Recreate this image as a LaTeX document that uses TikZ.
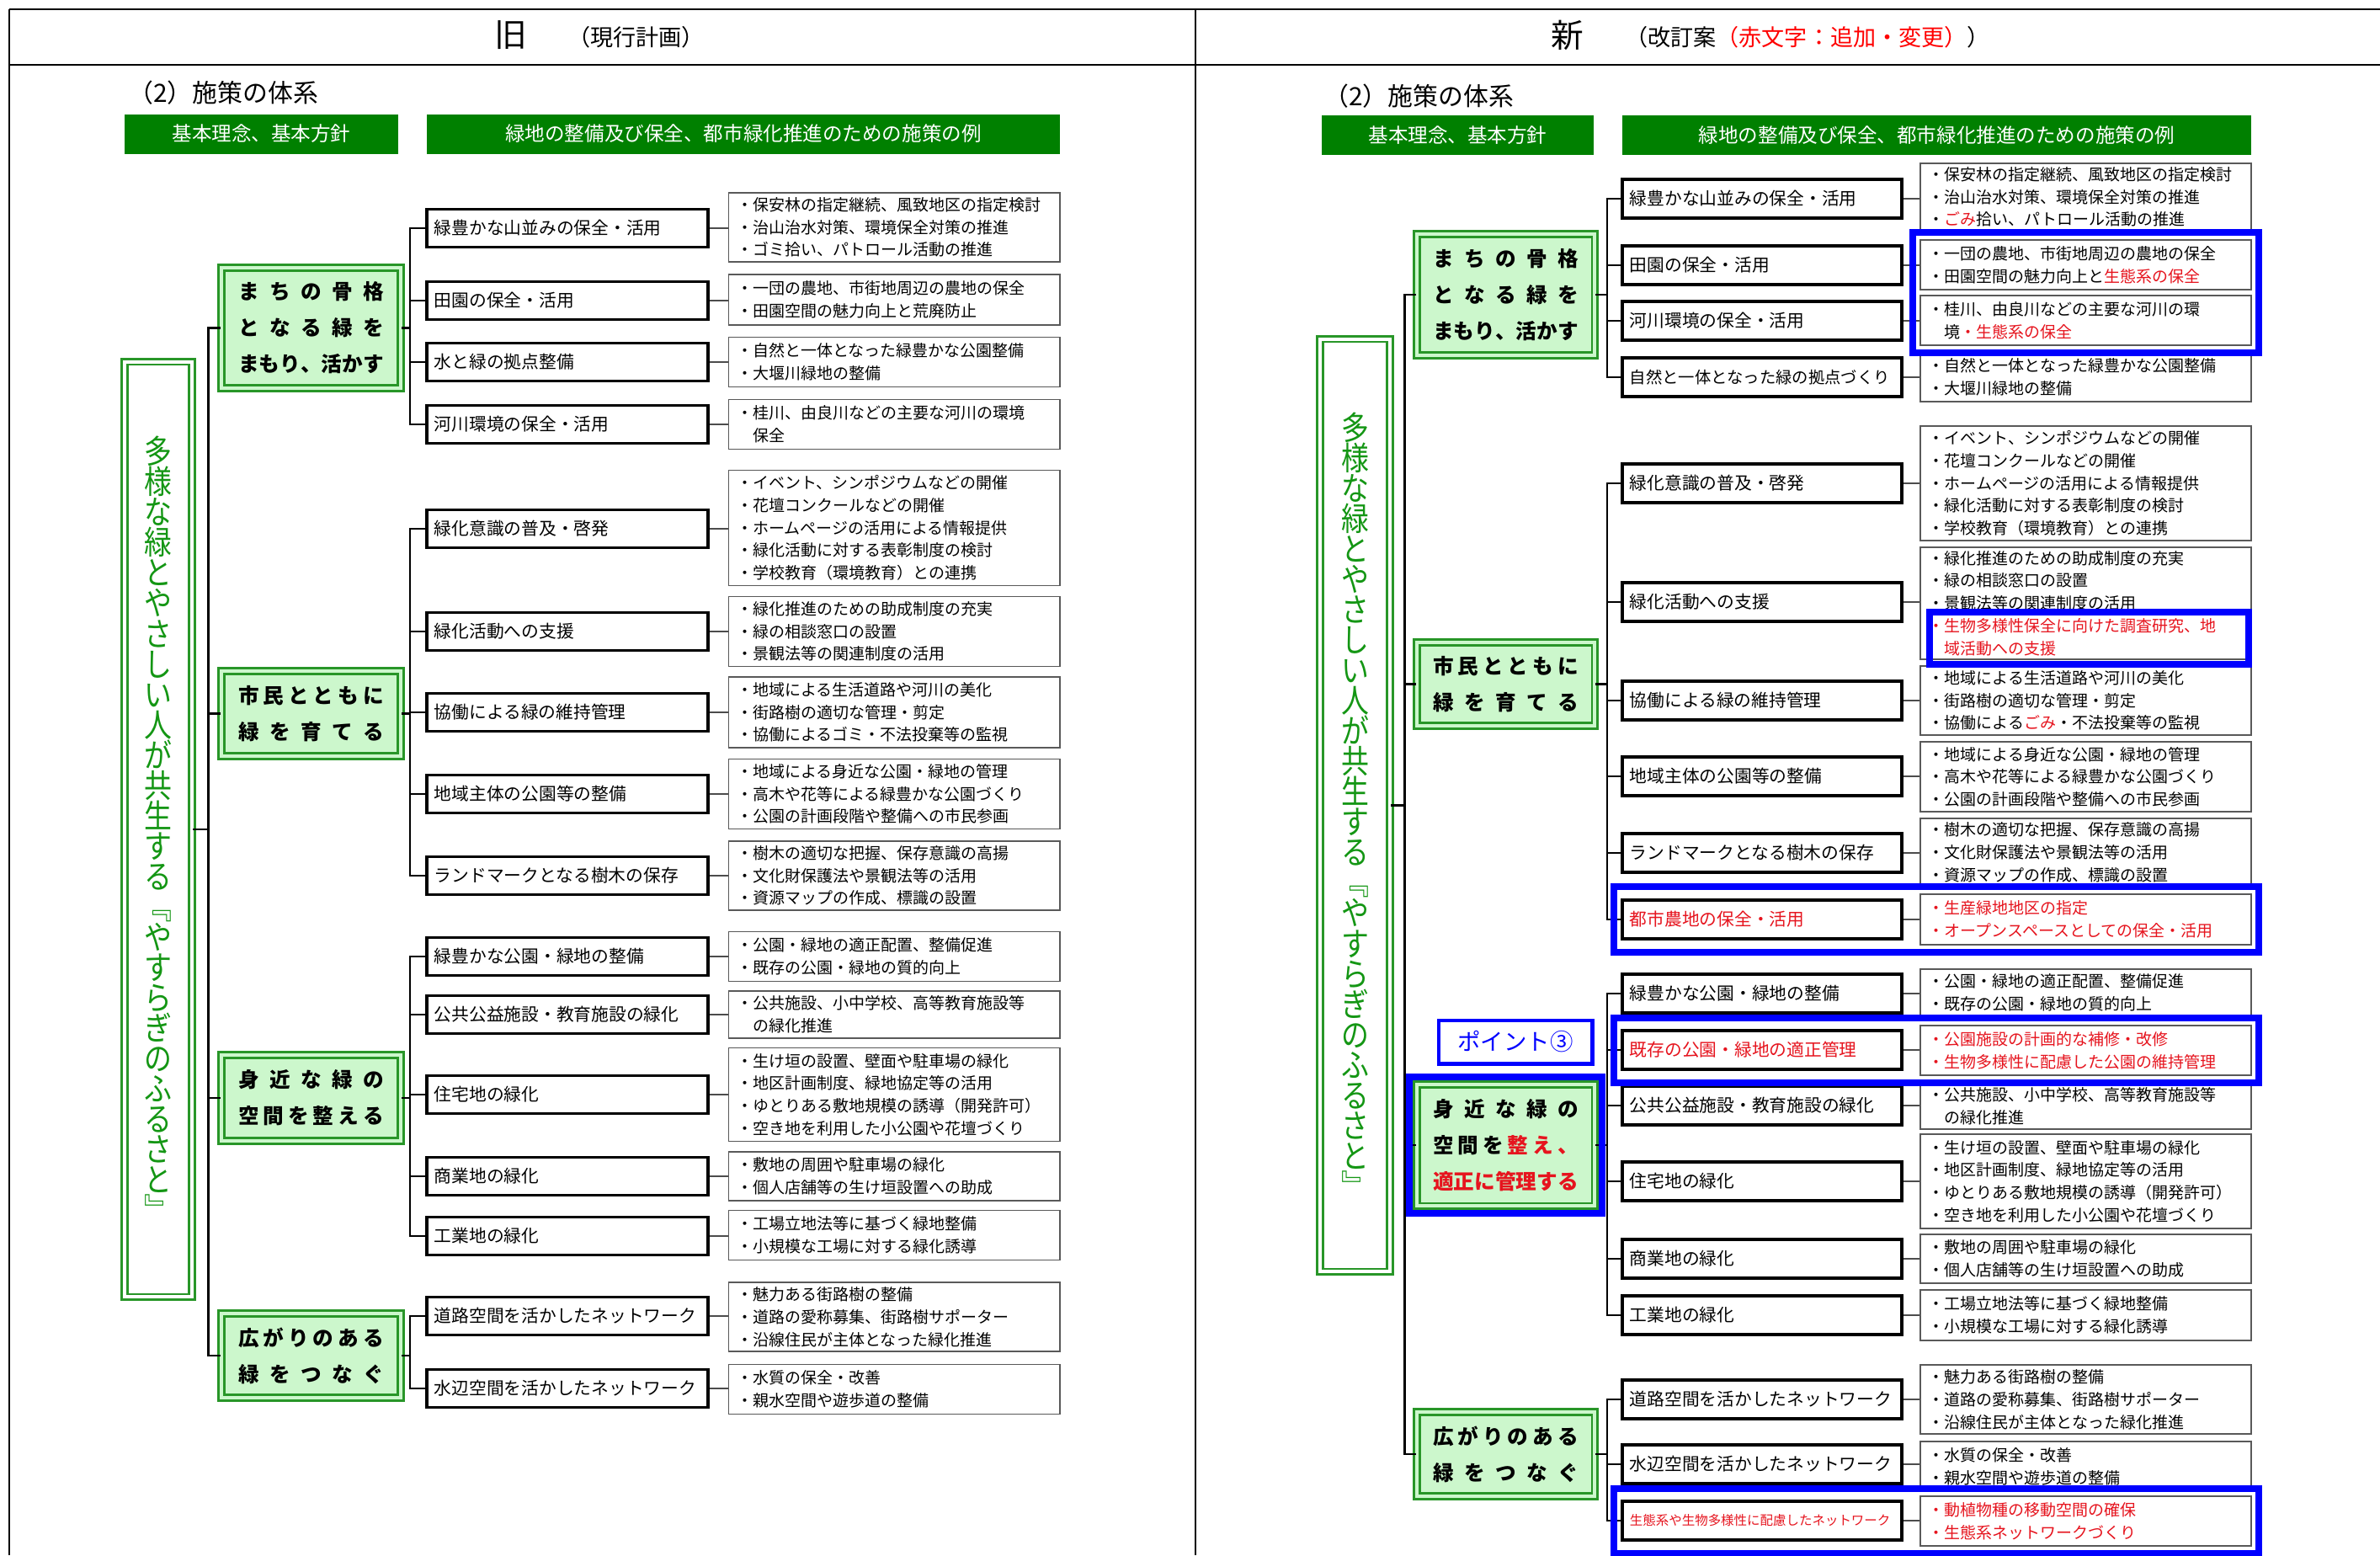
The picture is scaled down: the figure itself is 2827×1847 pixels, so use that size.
\documentclass[tikz,border=0pt]{standalone}
\usepackage{fontspec}
\setmainfont{Noto Sans CJK JP}
\newfontfamily\tall{Noto Sans CJK JP}[FakeStretch=0.85]
\usetikzlibrary{fit}
\definecolor{barg}{RGB}{0,128,0}
\definecolor{kgreen}{RGB}{40,150,40}
\definecolor{lgreen}{RGB}{204,247,204}
\definecolor{tgreen}{RGB}{20,150,20}
\definecolor{akared}{RGB}{230,20,30}
\newcommand\aka[1]{\textcolor{akared}{#1}}
% spread the letters of a line over the box
\newcommand\kin[1]{\makebox[49pt][s]{\kina#1\relax}}
\def\kina#1{#1\kinb}
\def\kinb#1{\ifx#1\relax\else\hfill#1\expandafter\kinb\fi}

\begin{document}
\begin{tikzpicture}[x=0.01cm,y=-0.01cm,
  hbar/.style={fill=barg,text=white,minimum height=0.47cm,inner sep=0pt,font=\fontsize{6.7pt}{8pt}\selectfont},
  mainbox/.style={draw=kgreen,double=white,double distance=1.2pt,line width=0.7pt,fill=white,text=tgreen,align=center,inner sep=0pt,font=\tall\fontsize{11pt}{10.25pt}\selectfont},
  kbox/.style={draw=kgreen,double=lgreen,double distance=1.2pt,line width=0.7pt,fill=lgreen,align=center,inner sep=0pt,font=\bfseries\fontsize{7pt}{12.2pt}\selectfont},
  sbox/.style={draw,line width=1.1pt,fill=white,align=left,inner xsep=0.09cm,inner ysep=0pt,minimum height=0.45cm,font=\fontsize{5.9pt}{7pt}\selectfont},
  lbox/.style={draw=black!65,line width=0.5pt,fill=white,align=left,text width=3.73cm,inner xsep=0.1cm,inner ysep=0.01cm,font=\fontsize{5.4pt}{7.6pt}\selectfont},
  hilite/.style={draw=blue,line width=2.3pt,inner sep=0.08cm},
  link/.style={line width=0.8pt},
  twig/.style={line width=0.6pt,black!70}]
\useasboundingbox (0,0) rectangle (2827,1847);

% frame and headings
\draw[line width=0.7pt] (11,11) -- (2827,11) (11,77) -- (2827,77) (11,11) -- (11,1847) (1420,11) -- (1420,1847);
\node (lh) at (607,42) {\fontsize{11pt}{12pt}\selectfont 旧};
\node[anchor=west] (lhs) at (662,44) {\fontsize{7.7pt}{9pt}\selectfont （現行計画）};
\node (rh) at (1862,42) {\fontsize{11pt}{12pt}\selectfont 新};
\node[anchor=west] (rhs) at (1918,44) {\fontsize{7.7pt}{9pt}\selectfont （改訂案\textcolor{red}{（赤文字：追加・変更）}）};

% ---------------- old plan ----------------
\node[anchor=west,font=\fontsize{8.5pt}{10pt}\selectfont] (ltitle) at (140,110) {（2）施策の体系};
\node[hbar,minimum width=3.25cm] (lbar1) at (310.5,159) {基本理念、基本方針};
\node[hbar,minimum width=7.52cm] (lbar2) at (883,159) {緑地の整備及び保全、都市緑化推進のための施策の例};

\node[mainbox,minimum width=0.8cm,minimum height=11.1cm] (lm) at (188,985) {多\\様\\な\\緑\\と\\や\\さ\\し\\い\\人\\が\\共\\生\\す\\る\\﹃\\や\\す\\ら\\ぎ\\の\\ふ\\る\\さ\\と\\﹄};

\node[kbox,minimum width=2.13cm,minimum height=1.43cm] (lka) at (369.5,389.5) {\kin{まちの骨格}\\\kin{となる緑を}\\\kin{まもり、活かす}};
\node[kbox,minimum width=2.13cm,minimum height=1.01cm] (lkb) at (369.5,847.5) {\kin{市民とともに}\\\kin{緑を育てる}};
\node[kbox,minimum width=2.13cm,minimum height=1.02cm] (lkc) at (369.5,1304) {\kin{身近な緑の}\\\kin{空間を整える}};
\node[kbox,minimum width=2.13cm,minimum height=1.0cm] (lkd) at (369.5,1610) {\kin{広がりのある}\\\kin{緑をつなぐ}};

\foreach \y/\t [count=\i] in {271/緑豊かな山並みの保全・活用,357/田園の保全・活用,430/水と緑の拠点整備,504/河川環境の保全・活用,628/緑化意識の普及・啓発,750/緑化活動への支援,846/協働による緑の維持管理,943/地域主体の公園等の整備,1040/ランドマークとなる樹木の保存,1136/緑豊かな公園・緑地の整備,1205/公共公益施設・教育施設の緑化,1300/住宅地の緑化,1397/商業地の緑化,1468/工業地の緑化,1563/道路空間を活かしたネットワーク,1649/水辺空間を活かしたネットワーク}
  \node[sbox,text width=3.16cm] (ls\i) at (674,\y) {\t};

\foreach \y/\h/\t [count=\i] in {
  270/82/{・保安林の指定継続、風致地区の指定検討\\・治山治水対策、環境保全対策の推進\\・ゴミ拾い、パトロール活動の推進},
  356/60/{・一団の農地、市街地周辺の農地の保全\\・田園空間の魅力向上と荒廃防止},
  430/59/{・自然と一体となった緑豊かな公園整備\\・大堰川緑地の整備},
  504/59/{・桂川、由良川などの主要な河川の環境\\\hspace*{1em}保全},
  627/137/{・イベント、シンポジウムなどの開催\\・花壇コンクールなどの開催\\・ホームページの活用による情報提供\\・緑化活動に対する表彰制度の検討\\・学校教育（環境教育）との連携},
  750/83/{・緑化推進のための助成制度の充実\\・緑の相談窓口の設置\\・景観法等の関連制度の活用},
  846/84/{・地域による生活道路や河川の美化\\・街路樹の適切な管理・剪定\\・協働によるゴミ・不法投棄等の監視},
  943/83/{・地域による身近な公園・緑地の管理\\・高木や花等による緑豊かな公園づくり\\・公園の計画段階や整備への市民参画},
  1040/82/{・樹木の適切な把握、保存意識の高揚\\・文化財保護法や景観法等の活用\\・資源マップの作成、標識の設置},
  1136/59/{・公園・緑地の適正配置、整備促進\\・既存の公園・緑地の質的向上},
  1205/56/{・公共施設、小中学校、高等教育施設等\\\hspace*{1em}の緑化推進},
  1300/111/{・生け垣の設置、壁面や駐車場の緑化\\・地区計画制度、緑地協定等の活用\\・ゆとりある敷地規模の誘導（開発許可）\\・空き地を利用した小公園や花壇づくり},
  1397/58/{・敷地の周囲や駐車場の緑化\\・個人店舗等の生け垣設置への助成},
  1467/59/{・工場立地法等に基づく緑地整備\\・小規模な工場に対する緑化誘導},
  1564/82/{・魅力ある街路樹の整備\\・道路の愛称募集、街路樹サポーター\\・沿線住民が主体となった緑化推進},
  1650/59/{・水質の保全・改善\\・親水空間や遊歩道の整備}}
  \node[lbox,minimum height=\h*0.1mm] (ll\i) at (1062,\y) {\t};

\foreach \i in {1,...,16} \draw[twig] (ls\i.east) -- (ls\i.east -| ll\i.west);
\path (ls1.west) ++(-18,0) coordinate (lt);
\draw[link] (ls1.west) -- (ls1.west -| lt) -- (ls4.west -| lt) -- (ls4.west);
\draw[link] (ls5.west) -- (ls5.west -| lt) -- (ls9.west -| lt) -- (ls9.west);
\draw[link] (ls10.west) -- (ls10.west -| lt) -- (ls14.west -| lt) -- (ls14.west);
\draw[link] (ls15.west) -- (ls15.west -| lt) -- (ls16.west -| lt) -- (ls16.west);
\foreach \i in {2,3,6,7,8,11,12,13} \draw[link] (ls\i.west) -- (ls\i.west -| lt);
\foreach \k in {a,b,c,d} \draw[link] (lk\k.east) -- (lk\k.east -| lt);
\path (lm.east) ++(18,0) coordinate (lmt);
\draw[link] (lm.east) -- (lmt);
\draw[link] (lka.west) -- (lka.west -| lmt) -- (lkd.west -| lmt) -- (lkd.west);
\draw[link] (lkb.west) -- (lkb.west -| lmt) (lkc.west) -- (lkc.west -| lmt);

% ---------------- new plan ----------------
\node[anchor=west,font=\fontsize{8.5pt}{10pt}\selectfont] (rtitle) at (1560,114) {（2）施策の体系};
\node[hbar,minimum width=3.23cm] (rbar1) at (1731.5,160.5) {基本理念、基本方針};
\node[hbar,minimum width=7.47cm] (rbar2) at (2300.5,160.5) {緑地の整備及び保全、都市緑化推進のための施策の例};

\node[mainbox,minimum width=0.83cm,minimum height=11.07cm] (rm) at (1609.5,956.5) {多\\様\\な\\緑\\と\\や\\さ\\し\\い\\人\\が\\共\\生\\す\\る\\﹃\\や\\す\\ら\\ぎ\\の\\ふ\\る\\さ\\と\\﹄};

\node[kbox,minimum width=2.11cm,minimum height=1.44cm] (rka) at (1788.5,350) {\kin{まちの骨格}\\\kin{となる緑を}\\\kin{まもり、活かす}};
\node[kbox,minimum width=2.11cm,minimum height=0.99cm] (rkb) at (1788.5,812.5) {\kin{市民とともに}\\\kin{緑を育てる}};
\node[kbox,minimum width=2.11cm,minimum height=1.44cm] (rkc) at (1788.5,1360) {\kin{身近な緑の}\\\makebox[49pt][s]{空\hfill 間\hfill を\hfill\aka{整}\hfill\aka{え}\hfill\aka{、}}\\\aka{\kin{適正に管理する}}};
\node[kbox,minimum width=2.11cm,minimum height=1.0cm] (rkd) at (1788.5,1727) {\kin{広がりのある}\\\kin{緑をつなぐ}};

\foreach \y/\t [count=\i] in {236/緑豊かな山並みの保全・活用,315/田園の保全・活用,381/河川環境の保全・活用,448/{\fontsize{5.5pt}{6pt}\selectfont 自然と一体となった緑の拠点づくり},574/緑化意識の普及・啓発,715/緑化活動への支援,832/協働による緑の維持管理,922/地域主体の公園等の整備,1013/ランドマークとなる樹木の保存,1092/\aka{都市農地の保全・活用},1180/緑豊かな公園・緑地の整備,1247/\aka{既存の公園・緑地の適正管理},1313/公共公益施設・教育施設の緑化,1403/住宅地の緑化,1495/商業地の緑化,1562/工業地の緑化,1662/道路空間を活かしたネットワーク,1739/水辺空間を活かしたネットワーク,1806/{\fontsize{4.4pt}{5pt}\selectfont\aka{生態系や生物多様性に配慮したネットワーク}}}
  \node[sbox,text width=3.14cm,minimum height=0.46cm] (rs\i) at (2093,\y) {\t};

\foreach \y/\h/\t [count=\i] in {
  234/80/{・保安林の指定継続、風致地区の指定検討\\・治山治水対策、環境保全対策の推進\\・\aka{ごみ}拾い、パトロール活動の推進},
  314.5/59/{・一団の農地、市街地周辺の農地の保全\\・田園空間の魅力向上と\aka{生態系の保全}},
  380.5/59/{・桂川、由良川などの主要な河川の環\\\hspace*{1em}境\aka{・生態系の保全}},
  448/58/{・自然と一体となった緑豊かな公園整備\\・大堰川緑地の整備},
  574/136/{・イベント、シンポジウムなどの開催\\・花壇コンクールなどの開催\\・ホームページの活用による情報提供\\・緑化活動に対する表彰制度の検討\\・学校教育（環境教育）との連携},
  716.5/133/{・緑化推進のための助成制度の充実\\・緑の相談窓口の設置\\・景観法等の関連制度の活用\\\aka{・生物多様性保全に向けた調査研究、地}\\\hspace*{1em}\aka{域活動への支援}},
  832/82/{・地域による生活道路や河川の美化\\・街路樹の適切な管理・剪定\\・協働による\aka{ごみ}・不法投棄等の監視},
  922.5/83/{・地域による身近な公園・緑地の管理\\・高木や花等による緑豊かな公園づくり\\・公園の計画段階や整備への市民参画},
  1012.5/81/{・樹木の適切な把握、保存意識の高揚\\・文化財保護法や景観法等の活用\\・資源マップの作成、標識の設置},
  1092/60/{\aka{・生産緑地地区の指定}\\\aka{・オープンスペースとしての保全・活用}},
  1179/56/{・公園・緑地の適正配置、整備促進\\・既存の公園・緑地の質的向上},
  1247.5/59/{\aka{・公園施設の計画的な補修・改修}\\\aka{・生物多様性に配慮した公園の維持管理}},
  1314/54/{・公共施設、小中学校、高等教育施設等\\\hspace*{1em}の緑化推進},
  1403/112/{・生け垣の設置、壁面や駐車場の緑化\\・地区計画制度、緑地協定等の活用\\・ゆとりある敷地規模の誘導（開発許可）\\・空き地を利用した小公園や花壇づくり},
  1495/58/{・敷地の周囲や駐車場の緑化\\・個人店舗等の生け垣設置への助成},
  1562/60/{・工場立地法等に基づく緑地整備\\・小規模な工場に対する緑化誘導},
  1662/82/{・魅力ある街路樹の整備\\・道路の愛称募集、街路樹サポーター\\・沿線住民が主体となった緑化推進},
  1741.5/59/{・水質の保全・改善\\・親水空間や遊歩道の整備},
  1806.5/59/{\aka{・動植物種の移動空間の確保}\\\aka{・生態系ネットワークづくり}}}
  \node[lbox,minimum height=\h*0.1mm] (rl\i) at (2477.5,\y) {\t};

\foreach \i in {1,...,19} \draw[twig] (rs\i.east) -- (rs\i.east -| rl\i.west);
\path (rs1.west) ++(-16,0) coordinate (rt);
\draw[link] (rs1.west) -- (rs1.west -| rt) -- (rs4.west -| rt) -- (rs4.west);
\draw[link] (rs5.west) -- (rs5.west -| rt) -- (rs10.west -| rt) -- (rs10.west);
\draw[link] (rs11.west) -- (rs11.west -| rt) -- (rs16.west -| rt) -- (rs16.west);
\draw[link] (rs17.west) -- (rs17.west -| rt) -- (rs19.west -| rt) -- (rs19.west);
\foreach \i in {2,3,6,7,8,9,12,13,14,15,18} \draw[link] (rs\i.west) -- (rs\i.west -| rt);
\foreach \k in {a,b,c,d} \draw[link] (rk\k.east) -- (rk\k.east -| rt);
\path (rm.east) ++(16,0) coordinate (rmt);
\draw[link] (rm.east) -- (rmt);
\draw[link] (rka.west) -- (rka.west -| rmt) -- (rkd.west -| rmt) -- (rkd.west);
\draw[link] (rkb.west) -- (rkb.west -| rmt) (rkc.west) -- (rkc.west -| rmt);

% changes marked in blue
\node[hilite,fit=(rl2) (rl3)] (h1) {};
\draw[hilite] (2292,727) rectangle (2671,789);
\node[hilite,fit=(rs10) (rl10)] (h3) {};
\node[hilite,fit=(rs12) (rl12)] (h4) {};
\node[hilite,fit=(rkc)] (h5) {};
\node[hilite,fit=(rs19) (rl19)] (h6) {};
\node[draw=blue,line width=1.4pt,text=blue,minimum width=1.82cm,minimum height=0.51cm,font=\fontsize{7.8pt}{9pt}\selectfont] (pt) at (1800,1237.5) {ポイント③};
\end{tikzpicture}
\end{document}
